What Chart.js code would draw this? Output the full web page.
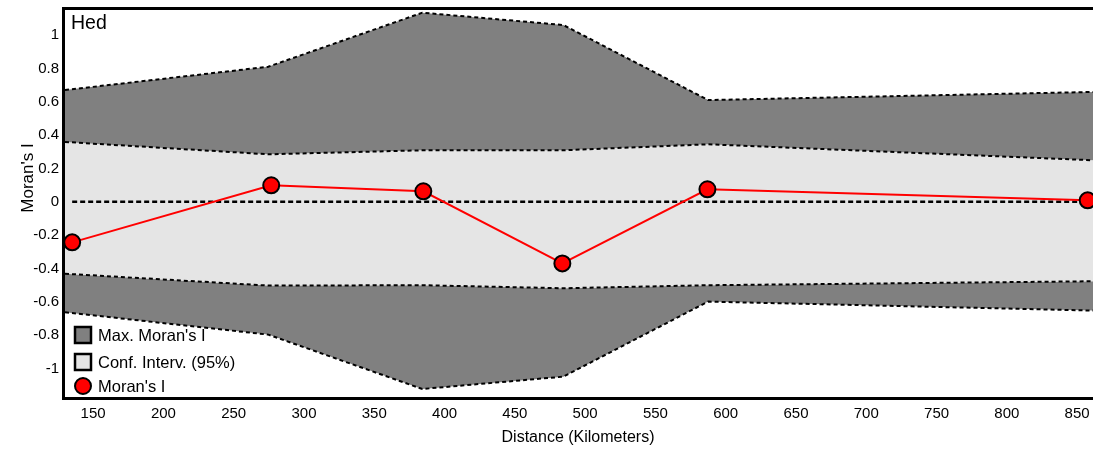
<!DOCTYPE html>
<html>
<head>
<meta charset="utf-8">
<script src="https://cdn.jsdelivr.net/npm/chart.js@4/dist/chart.umd.min.js"></script>
<style>
  html, body { margin: 0; padding: 0; background: #fff; overflow: hidden; }
  #wrap { width: 1093px; height: 452px; overflow: hidden; }
</style>
</head>
<body>
<div id="wrap"><canvas id="myChart" width="1104" height="452"></canvas></div>
<script>
// distances (km) of each lag
const lagKm = [135.1, 276.7, 384.9, 483.8, 587.0, 857.5];
const moransI = [-0.243, 0.099, 0.063, -0.369, 0.075, 0.009];

// band vertices
const bandKm = [130, 274.6, 384.2, 484.5, 587.5, 862];
const maxUpper = [0.670, 0.810, 1.134, 1.060, 0.610, 0.659];
const confUpper = [0.359, 0.285, 0.309, 0.309, 0.345, 0.249];
const confLower = [-0.431, -0.502, -0.500, -0.518, -0.500, -0.476];
const maxLower = [-0.662, -0.796, -1.122, -1.048, -0.598, -0.652];

const xTicks = [150, 200, 250, 300, 350, 400, 450, 500, 550, 600, 650, 700, 750, 800, 850];
const yTicks = [-1, -0.8, -0.6, -0.4, -0.2, 0, 0.2, 0.4, 0.6, 0.8, 1];

const legendLabels = ["Max. Moran's I", "Conf. Interv. (95%)", "Moran's I"];

const DARK = '#808080';
const LIGHT = '#e5e5e5';
const FONT = 'Liberation Sans, Arial, sans-serif';

function pts(xs, ys) {
    return xs.map(function(x, i) { return {x: x, y: ys[i]}; });
}

function bandLine(data, fillTo, color) {
    return {
        data: data,
        borderColor: '#000',
        borderWidth: 2,
        borderDash: [4, 3],
        backgroundColor: color,
        fill: fillTo,
        pointRadius: 0,
        tension: 0,
        order: 5
    };
}

const framePlugin = {
    id: 'frame',
    afterDraw: function(chart) {
        const ctx = chart.ctx;
        const a = chart.chartArea;
        ctx.save();
        // frame (right side is cut off in the original)
        ctx.strokeStyle = '#000';
        ctx.lineWidth = 3;
        ctx.beginPath();
        ctx.moveTo(chart.width + 5, a.top - 1.5);
        ctx.lineTo(a.left - 1.5, a.top - 1.5);
        ctx.lineTo(a.left - 1.5, a.bottom + 1.5);
        ctx.lineTo(chart.width + 5, a.bottom + 1.5);
        ctx.stroke();

        ctx.fillStyle = '#000';
        ctx.textBaseline = 'middle';

        // panel title
        ctx.textAlign = 'left';
        ctx.font = '19.5px ' + FONT;
        ctx.fillText('Hed', 71, 24);

        // x axis title
        ctx.textAlign = 'center';
        ctx.font = '16px ' + FONT;
        ctx.fillText('Distance (Kilometers)', 578, 438);

        // y axis title
        ctx.save();
        ctx.translate(28, 178);
        ctx.rotate(-Math.PI / 2);
        ctx.textAlign = 'center';
        ctx.font = '17px ' + FONT;
        ctx.fillText("Moran's I", 0, 0);
        ctx.restore();

        // legend
        ctx.textAlign = 'left';
        ctx.font = '16.5px ' + FONT;
        ctx.lineWidth = 2.5;
        ctx.strokeStyle = '#000';
        const lx = 75, tx = 98;
        const rows = [335, 362, 386];
        ctx.fillStyle = DARK;
        ctx.fillRect(lx, rows[0] - 8, 16, 16);
        ctx.strokeRect(lx, rows[0] - 8, 16, 16);
        ctx.fillStyle = LIGHT;
        ctx.fillRect(lx, rows[1] - 8, 16, 16);
        ctx.strokeRect(lx, rows[1] - 8, 16, 16);
        ctx.fillStyle = '#ff0000';
        ctx.lineWidth = 2;
        ctx.beginPath();
        ctx.arc(lx + 8, rows[2], 8, 0, Math.PI * 2);
        ctx.fill();
        ctx.stroke();
        ctx.fillStyle = '#000';
        legendLabels.forEach(function(t, i) {
            ctx.fillText(t, tx, rows[i] + 1);
        });
        ctx.restore();
    }
};

function graficar(namechart) {
    const ctx = document.getElementById(namechart);
    return new Chart(ctx, {
        type: 'line',
        data: {
            datasets: [
                {
                    label: "Moran's I",
                    data: pts(lagKm, moransI),
                    borderColor: '#ff0000',
                    borderWidth: 2,
                    backgroundColor: '#ff0000',
                    pointBackgroundColor: '#ff0000',
                    pointBorderColor: '#000',
                    pointBorderWidth: 2,
                    pointRadius: 8,
                    fill: false,
                    tension: 0,
                    clip: false,
                    order: 0
                },
                {
                    label: 'zero',
                    data: [{x: lagKm[0], y: 0}, {x: bandKm[bandKm.length - 1], y: 0}],
                    borderColor: '#000',
                    borderWidth: 2.5,
                    borderDash: [5, 3],
                    pointRadius: 0,
                    fill: false,
                    order: 1
                },
                bandLine(pts(bandKm, maxUpper), '+1', DARK),
                bandLine(pts(bandKm, confUpper), '+1', LIGHT),
                bandLine(pts(bandKm, confLower), '+1', DARK),
                bandLine(pts(bandKm, maxLower), false, DARK)
            ]
        },
        options: {
            responsive: false,
            animation: false,
            layout: { padding: { top: 9, right: 0, left: 0, bottom: 0 } },
            plugins: {
                legend: { display: false },
                tooltip: { enabled: false },
                filler: { drawTime: 'beforeDatasetsDraw' }
            },
            scales: {
                x: {
                    type: 'linear',
                    min: 130,
                    max: 862,
                    grid: { display: false, drawTicks: false },
                    border: { display: false },
                    afterBuildTicks: function(s) { s.ticks = xTicks.map(function(v) { return {value: v}; }); },
                    afterFit: function(s) { s.height = 55; s.paddingLeft = 0; s.paddingRight = 0; },
                    ticks: {
                        color: '#000',
                        font: { family: FONT, size: 15 },
                        padding: 8,
                        maxRotation: 0,
                        autoSkip: false
                    }
                },
                y: {
                    min: -1.17,
                    max: 1.15,
                    grid: { display: false, drawTicks: false },
                    border: { display: false },
                    afterBuildTicks: function(s) { s.ticks = yTicks.map(function(v) { return {value: v}; }); },
                    afterFit: function(s) { s.width = 65; s.paddingTop = 0; s.paddingBottom = 0; },
                    ticks: {
                        color: '#000',
                        font: { family: FONT, size: 15 },
                        padding: 6,
                        callback: function(v) { return String(+v.toFixed(1)); }
                    }
                }
            }
        },
        plugins: [framePlugin]
    });
}

let myChart = graficar('myChart');
</script>
</body>
</html>
